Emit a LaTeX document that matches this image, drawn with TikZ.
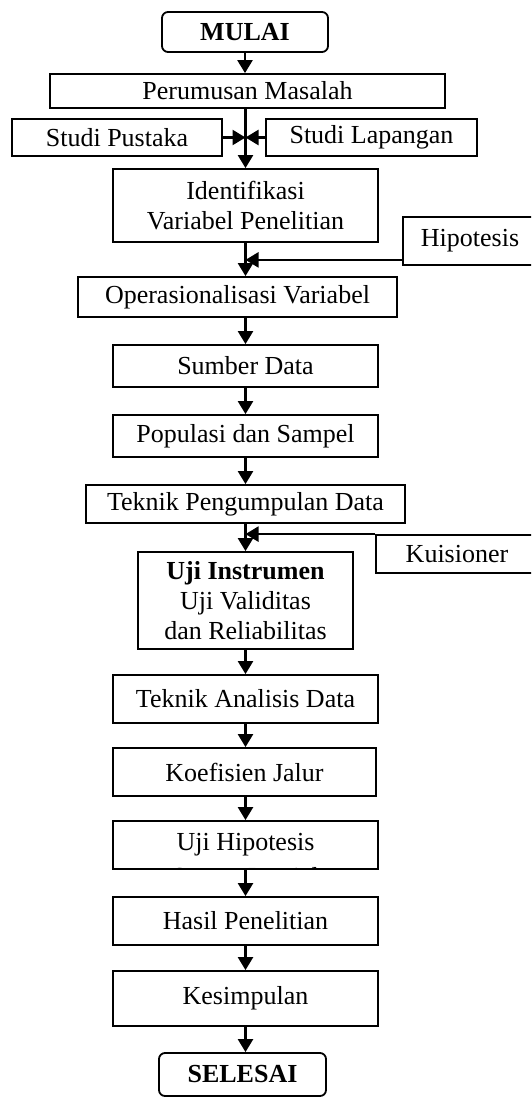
\documentclass[tikz,border=0pt]{standalone}
\usepackage{fontspec}
\setmainfont{Liberation Serif}
\usetikzlibrary{arrows.meta, calc}

\begin{document}
\begin{tikzpicture}[x=0.5pt, y=-0.5pt, >={Triangle[length=6.5pt,width=7.5pt]},
	font=\fontsize{13}{15}\selectfont,
	box/.style={draw, line width=0.9pt, align=center, inner sep=1pt},
	term/.style={box, rounded corners=3pt, font=\fontsize{13}{15}\selectfont\bfseries},
	flow/.style={->, line width=1.2pt}]

% page frame; the side boxes run past its right edge
\clip (0,0) rectangle (531,1097);

%========================
% Start and problem
%========================
\node[term, minimum width=83pt, minimum height=20pt] (mulai) at (245,32) {MULAI};
\node[box, minimum width=197.5pt, minimum height=17pt] (masalah) at (247.5,91) {Perumusan Masalah};
\node[box, minimum width=105pt, minimum height=18.5pt] (pustaka) at (117,137.5) {Studi Pustaka};
\node[box, minimum width=105.5pt, minimum height=18.5pt] (lapangan) at (371.5,137.5) {Studi Lapangan};

%========================
% Variables and data
%========================
\node[box, minimum width=132.5pt, minimum height=36.5pt] (identifikasi) at (245.5,205.5) {Identifikasi\\Variabel Penelitian};
\node[box, minimum width=67pt, minimum height=24pt] (hipotesis) at (470,241) {Hipotesis};
\node[box, minimum width=159.5pt, minimum height=20pt] (operasional) at (237.5,297) {Operasionalisasi Variabel};
\node[box, minimum width=132.5pt, minimum height=21pt] (sumber) at (245.5,366) {Sumber Data};
\node[box, minimum width=132.5pt, minimum height=21pt] (populasi) at (245.5,436) {Populasi dan Sampel};
\node[box, minimum width=159.5pt, minimum height=19pt] (pengumpulan) at (245.5,504) {Teknik Pengumpulan Data};
\node[box, minimum width=81pt, minimum height=19pt] (kuisioner) at (457,554) {Kuisioner};
\node[box, minimum width=107.5pt, minimum height=48.5pt] (instrumen) at (245.5,600.5)
	{\textbf{Uji Instrumen}\\Uji Validitas\\dan Reliabilitas};

%========================
% Analysis and end
%========================
\node[box, minimum width=132.5pt, minimum height=24pt] (analisis) at (245.5,699) {Teknik Analisis Data};
\node[box, minimum width=131.5pt, minimum height=24pt] (koefisien) at (244.5,772) {Koefisien Jalur};
% second line runs out of the box and is cut off
\node[box, minimum width=132.5pt, minimum height=24pt,
	path picture={\node[anchor=base, inner sep=0pt] at ([yshift=-8pt]path picture bounding box.south) {Secara Parsial};}]
	(ujihipotesis) at (245.5,845) {Uji Hipotesis};
\node[box, minimum width=132.5pt, minimum height=24pt] (hasil) at (245.5,921) {Hasil Penelitian};
\node[box, minimum width=132.5pt, minimum height=27.5pt] (kesimpulan) at (245.5,998.5) {Kesimpulan};
\node[term, minimum width=83.5pt, minimum height=21.5pt] (selesai) at (242.5,1074.5) {SELESAI};

%========================
% Connectors
%========================
\draw[flow] (mulai.south) -- (mulai.south |- masalah.north);
\draw[flow] (masalah.south -| identifikasi.north) -- (identifikasi.north);
\draw[flow] (pustaka.east) -- (pustaka.east -| identifikasi.north);
\draw[flow] (lapangan.west) -- (lapangan.west -| identifikasi.north);

\draw[flow] (identifikasi.south) -- (identifikasi.south |- operasional.north);
\draw[flow] ([yshift=3pt]hipotesis.south west) -- ([yshift=3pt]hipotesis.south west -| identifikasi.south);
\draw[flow] (operasional.south -| sumber.north) -- (sumber.north);
\draw[flow] (sumber.south) -- (populasi.north);
\draw[flow] (populasi.south) -- (pengumpulan.north);
\draw[flow] (pengumpulan.south) -- (instrumen.north);
\draw[flow] (kuisioner.north west) -- (kuisioner.north west -| instrumen.north);

\draw[flow] (instrumen.south) -- (analisis.north);
\draw[flow] (analisis.south) -- (analisis.south |- koefisien.north);
\draw[flow] (koefisien.south -| ujihipotesis.north) -- (ujihipotesis.north);
\draw[flow] (ujihipotesis.south) -- (hasil.north);
\draw[flow] (hasil.south) -- (kesimpulan.north);
\draw[flow] (kesimpulan.south) -- (kesimpulan.south |- selesai.north);

\end{tikzpicture}
\end{document}
